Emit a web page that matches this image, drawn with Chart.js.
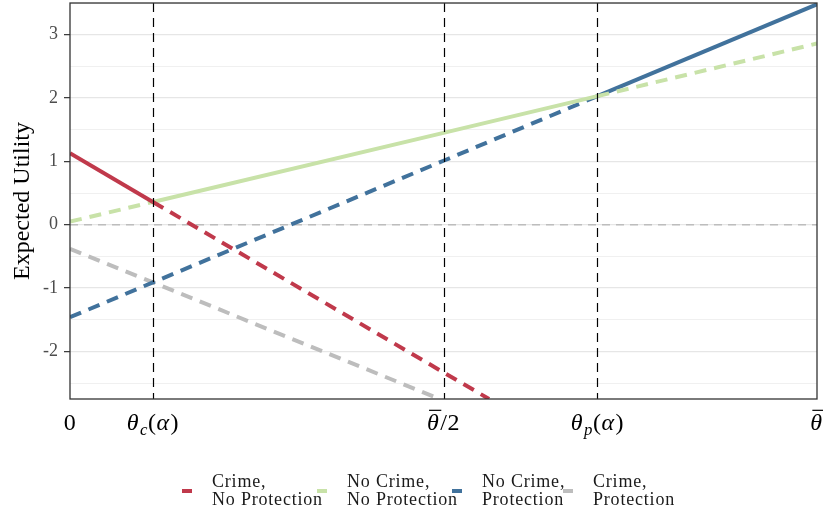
<!DOCTYPE html>
<html>
<head>
<meta charset="utf-8">
<script src="https://cdn.jsdelivr.net/npm/chart.js@4/dist/chart.umd.min.js"></script>
<style>
    body { margin: 0; background: #fff; }
    #wrap { position: relative; width: 823px; height: 515px; }
    #legend { position: absolute; top: 472px; left: 0; font-family: "Liberation Serif", serif; font-size: 18px; line-height: 18px; letter-spacing: 0.8px; color: #1a1a1a; }
    .item { position: absolute; top: 0; white-space: nowrap; }
    .key { position: absolute; top: 17px; width: 10px; height: 4px; }
    .txt { position: absolute; top: 0; left: 30px; }
    .item:nth-child(1) { left: 182px; }
    .item:nth-child(2) { left: 317px; }
    .item:nth-child(3) { left: 452px; }
    .item:nth-child(4) { left: 563px; }
</style>
</head>
<body>
<div id="wrap">
    <canvas id="chart" width="823" height="515"></canvas>
    <div id="legend"></div>
</div>
<script>
// Thresholds on the x axis (theta-bar = 1)
const THETA_C = 0.111;
const THETA_P = 0.706;

// Series (x positions and expected utility)
const xCrimeNoProt = [0, THETA_C, 0.5, 0.561];
const yCrimeNoProt = [1.13, 0.36, -2.33, -2.75];

const xNoCrimeNoProt = [0, THETA_C, 0.5, THETA_P, 1];
const yNoCrimeNoProt = [0.05, 0.36, 1.45, 2.03, 2.86];

const xNoCrimeProt = [0, THETA_C, 0.5, THETA_P, 1];
const yNoCrimeProt = [-1.46, -0.91, 1.01, 2.03, 3.48];

const xCrimeProt = [0, THETA_C, 0.495];
const yCrimeProt = [-0.38, -0.91, -2.75];

// Labels
const seriesLabels = [
    ['Crime,', 'No Protection'],
    ['No Crime,', 'No Protection'],
    ['No Crime,', 'Protection'],
    ['Crime,', 'Protection']
];
const seriesColors = ['#C0394B', '#C8E2A8', '#41729C', '#BDBDBD'];
// part of each line that is drawn solid (optimal choice)
const solidFrom = [0, THETA_C, THETA_P, null];
const solidTo = [THETA_C, THETA_P, 1, null];

// Axis ticks
const yTickLabels = [-2, -1, 0, 1, 2, 3];
const yMinorTicks = [-2.5, -1.5, -0.5, 0.5, 1.5, 2.5, 3.5];
const xTickValues = [0, THETA_C, 0.5, THETA_P, 1];
const xTickLabels = ['0', 'θ_c(α)', 'θ\u0305/2', 'θ_p(α)', 'θ\u0305'];
const vLines = [THETA_C, 0.5, THETA_P];

const toPoints = (xs, ys) => xs.map((x, i) => ({ x: x, y: ys[i] }));
const seriesX = [xCrimeNoProt, xNoCrimeNoProt, xNoCrimeProt, xCrimeProt];
const seriesY = [yCrimeNoProt, yNoCrimeNoProt, yNoCrimeProt, yCrimeProt];

const datasets = seriesLabels.map((label, i) => ({
    label: label.join(' '),
    data: toPoints(seriesX[i], seriesY[i]),
    borderColor: seriesColors[i],
    borderWidth: 4,
    pointRadius: 0,
    borderCapStyle: 'butt',
    clip: 0,
    segment: {
        borderDash: ctx => {
            const mid = (ctx.p0.parsed.x + ctx.p1.parsed.x) / 2;
            const solid = solidFrom[i] !== null && mid > solidFrom[i] && mid < solidTo[i];
            return solid ? [] : [12, 8];
        }
    }
}));

// Draws math style label (italic letters, _ subscript, combining overline)
function drawMath(ctx, str, cx, baseline, size) {
    const parts = [];
    for (let i = 0; i < str.length; i++) {
        const ch = str[i];
        if (ch === '_') { parts.push({ t: str[++i], sub: true }); continue; }
        let bar = false;
        if (str[i + 1] === '\u0305') { bar = true; i++; }
        parts.push({ t: ch, bar: bar });
    }
    parts.forEach(p => {
        const italic = /[a-zA-Zα-ωθ]/.test(p.t);
        p.size = p.sub ? size * 0.7 : size;
        p.font = (italic ? 'italic ' : '') + p.size + 'px "Liberation Serif", serif';
        ctx.font = p.font;
        p.w = ctx.measureText(p.t).width + (italic && !p.sub ? 1.5 : 0.5);
    });
    const total = parts.reduce((s, p) => s + p.w, 0);
    let x = cx - total / 2;
    ctx.save();
    ctx.fillStyle = '#000';
    ctx.textBaseline = 'alphabetic';
    ctx.textAlign = 'left';
    parts.forEach(p => {
        ctx.font = p.font;
        const y = p.sub ? baseline + size * 0.2 : baseline;
        ctx.fillText(p.t, x, y);
        if (p.bar) {
            ctx.strokeStyle = '#000';
            ctx.lineWidth = 1.2;
            ctx.beginPath();
            ctx.moveTo(x + 2, baseline - size * 0.82);
            ctx.lineTo(x + p.w + 1, baseline - size * 0.82);
            ctx.stroke();
        }
        x += p.w;
    });
    ctx.restore();
}

const decorations = {
    id: 'decorations',
    beforeDatasetsDraw(chart) {
        const { ctx, chartArea: a, scales: { y } } = chart;
        const y0 = y.getPixelForValue(0);
        ctx.save();
        ctx.strokeStyle = '#BDBDBD';
        ctx.lineWidth = 1.5;
        ctx.setLineDash([8, 6]);
        ctx.beginPath();
        ctx.moveTo(a.left, y0);
        ctx.lineTo(a.right, y0);
        ctx.stroke();
        ctx.restore();
    },
    afterDatasetsDraw(chart) {
        const { ctx, chartArea: a, scales: { x } } = chart;
        ctx.save();
        ctx.strokeStyle = '#000';
        ctx.lineWidth = 1.2;
        ctx.setLineDash([9, 6]);
        vLines.forEach(v => {
            const px = Math.round(x.getPixelForValue(v)) + 0.5;
            ctx.beginPath();
            ctx.moveTo(px, a.top);
            ctx.lineTo(px, a.bottom);
            ctx.stroke();
        });
        ctx.setLineDash([]);
        ctx.strokeStyle = '#333';
        ctx.lineWidth = 1.3;
        ctx.strokeRect(a.left, a.top, a.right - a.left, a.bottom - a.top);
        ctx.restore();

        xTickValues.forEach((v, i) => {
            drawMath(ctx, xTickLabels[i], x.getPixelForValue(v), a.bottom + 31, 24);
        });
    }
};

const myChart = new Chart(document.getElementById('chart'), {
    type: 'line',
    data: { datasets: datasets },
    options: {
        responsive: false,
        animation: false,
        layout: { padding: { top: 3, right: 6, bottom: 66, left: 0 } },
        plugins: { legend: { display: false }, tooltip: { enabled: false } },
        scales: {
            x: {
                type: 'linear',
                min: 0,
                max: 1,
                grid: { display: false },
                border: { display: false },
                ticks: { display: false },
                afterFit: scale => {
                    scale.height = 50;
                    scale.paddingLeft = 0;
                    scale.paddingRight = 0;
                }
            },
            y: {
                min: -2.75,
                max: 3.5,
                border: { display: false },
                afterBuildTicks: scale => {
                    scale.ticks = yTickLabels.concat(yMinorTicks).sort((a, b) => a - b).map(v => ({ value: v }));
                },
                afterFit: scale => {
                    scale.width = 70;
                    scale.paddingTop = 0;
                    scale.paddingBottom = 0;
                },
                grid: {
                    color: ctx => Number.isInteger(ctx.tick.value) ? '#E6E6E6' : '#F0F0F0',
                    lineWidth: ctx => Number.isInteger(ctx.tick.value) ? 1.3 : 1,
                    tickColor: ctx => Number.isInteger(ctx.tick.value) ? '#333' : 'rgba(0,0,0,0)',
                    tickLength: 6,
                    tickWidth: 1.2
                },
                ticks: {
                    padding: 6,
                    color: '#4D4D4D',
                    font: { family: '"Liberation Serif", serif', size: 18 },
                    callback: v => Number.isInteger(v) ? String(v) : ''
                },
                title: {
                    display: true,
                    text: 'Expected Utility',
                    color: '#000',
                    padding: { top: 8, bottom: 0 },
                    font: { family: '"Liberation Serif", serif', size: 24 }
                }
            }
        }
    },
    plugins: [decorations]
});

// Legend
const legend = document.getElementById('legend');
seriesLabels.forEach((label, i) => {
    const item = document.createElement('div');
    item.className = 'item';
    const key = document.createElement('div');
    key.className = 'key';
    key.style.background = seriesColors[i];
    const txt = document.createElement('div');
    txt.className = 'txt';
    txt.innerHTML = label.join('<br>');
    item.appendChild(key);
    item.appendChild(txt);
    legend.appendChild(item);
});
</script>
</body>
</html>
